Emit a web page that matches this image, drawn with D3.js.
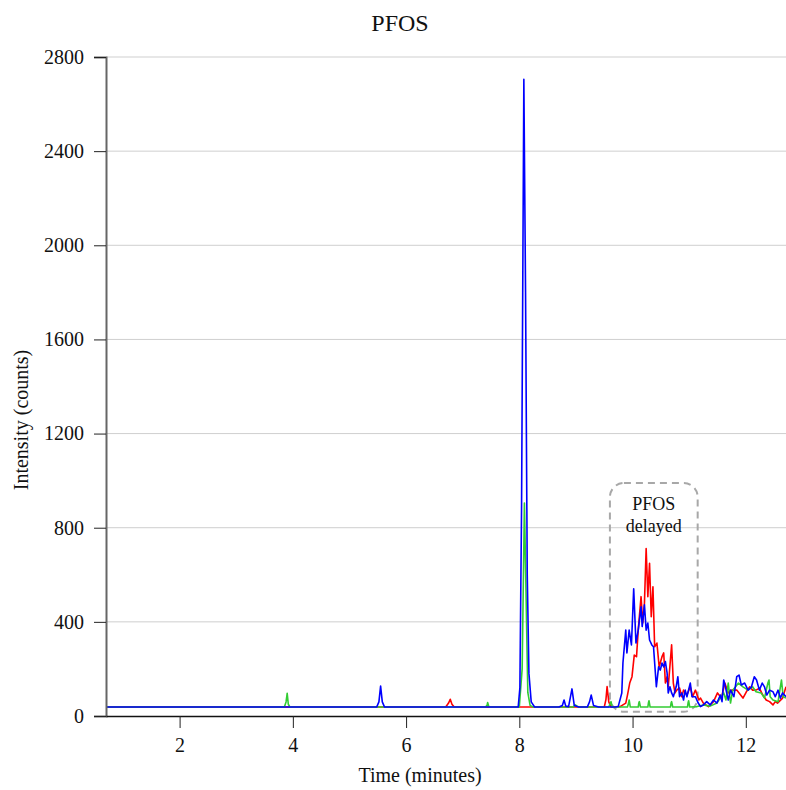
<!DOCTYPE html>
<html><head><meta charset="utf-8">
<script src="https://cdn.jsdelivr.net/npm/d3@7"></script>
<style>body{margin:0;background:#fff}text{font-family:"Liberation Serif","Times New Roman",serif}</style>
</head><body><svg id="c" width="786" height="790"></svg>
<script>
const yTicks=[0,400,800,1200,1600,2000,2400,2800];
const xTicks=[2,4,6,8,10,12];
const blueT=[0.7,5.48,5.52,5.55,5.58,5.62,7.98,8.01,8.04,8.08,8.11,8.14,8.17,8.21,8.27,8.7,8.76,8.79,8.82,8.87,8.93,8.97,9.05,9.2,9.24,9.27,9.31,9.4,9.7,9.746,9.81,9.83,9.88,9.90,9.94,9.98,10.02,10.06,10.10,10.15,10.17,10.21,10.24,10.27,10.30,10.34,10.37,10.42,10.46,10.49,10.52,10.55,10.58,10.61,10.63,10.66,10.69,10.72,10.77,10.80,10.83,10.87,10.90,10.93,10.96,11.02,11.05,11.11,11.16,11.2,11.25,11.31,11.37,11.43,11.49,11.55,11.58,11.61,11.64,11.69,11.73,11.79,11.84,11.88,11.92,11.98,12.04,12.10,12.15,12.19,12.24,12.29,12.33,12.37,12.42,12.48,12.52,12.57,12.61,12.65,12.71];
const blueV=[38,38,60,127,60,38,38,120,900,2705,1800,600,180,60,38,38,45,68,42,40,115,45,38,38,60,89,45,38,38,40,98,225,365,268,365,302,540,310,365,464,380,472,365,395,323,302,294,124,209,195,225,209,231,183,98,124,98,82,124,167,82,98,68,110,82,140,82,82,55,40,47,61,47,68,55,89,61,153,124,68,110,82,167,174,132,140,110,124,167,153,110,140,124,89,110,103,82,110,76,98,82];
const redT=[0.7,6.7,6.75,6.78,6.81,6.85,9.5,9.53,9.55,9.58,9.62,9.78,9.88,9.91,9.95,9.99,10.03,10.07,10.10,10.15,10.18,10.21,10.24,10.27,10.30,10.33,10.36,10.39,10.43,10.47,10.52,10.55,10.58,10.61,10.63,10.69,10.72,10.75,10.78,10.83,10.87,10.90,10.96,11.02,11.06,11.11,11.17,11.20,11.25,11.34,11.43,11.50,11.57,11.63,11.69,11.75,11.84,11.95,12.01,12.07,12.12,12.18,12.24,12.30,12.36,12.42,12.48,12.52,12.56,12.65,12.71];
const redV=[38,38,55,71,50,38,38,70,125,60,38,40,55,89,140,167,259,252,365,507,395,480,712,507,649,422,549,294,310,209,252,268,140,167,124,302,140,98,110,119,82,110,89,124,82,110,68,76,55,40,61,98,76,140,98,110,110,76,103,124,110,110,118,89,68,61,47,61,55,76,124];
const greenT=[0.7,3.85,3.88,3.9,3.92,3.95,7.4,7.43,7.44,7.46,7.5,8.0,8.05,8.09,8.12,8.15,8.19,8.24,8.95,8.99,9.02,9.05,9.58,9.61,9.62,9.64,9.91,9.93,9.94,9.96,10.10,10.11,10.12,10.14,10.27,10.28,10.29,10.31,10.67,10.68,10.69,10.71,10.97,10.98,10.99,11.01,11.14,11.25,11.37,11.49,11.55,11.61,11.65,11.69,11.73,11.77,11.82,11.87,11.95,12.04,12.12,12.18,12.27,12.33,12.39,12.41,12.43,12.48,12.57,12.63,12.66,12.71];
const greenV=[38,38,60,96,50,38,38,45,57,40,38,38,200,905,500,100,45,38,38,47,42,38,38,55,61,38,38,55,68,38,38,55,61,38,38,55,65,38,38,55,61,38,38,55,65,38,40,47,42,55,76,98,68,140,55,110,124,140,124,110,124,103,98,76,140,153,82,68,61,153,82,76];
const seriesNames=["red","green","blue"];
const seriesColors=["#ff0000","#33cc33","#0000ff"];
const annotation={t0:9.6,t1:11.15,v0:18,v1:990,lines:["PFOS","delayed"]};

const svg=d3.select("#c");
const L=106,R=786,T=57,B=716;
const x=d3.scaleLinear().domain([0.7,12.71]).range([L,R]);
const y=d3.scaleLinear().domain([0,2800]).range([B,T]);

svg.append("defs").append("clipPath").attr("id","clip").append("rect").attr("x",L).attr("y",T-5).attr("width",R-L).attr("height",B-T+5);

svg.append("g").selectAll("line").data(yTicks.filter(d=>d>0)).join("line")
 .attr("x1",L).attr("x2",R).attr("y1",d=>y(d)).attr("y2",d=>y(d))
 .attr("stroke","#cfcfcf").attr("stroke-width",1);

const bx0=x(annotation.t0),bx1=x(annotation.t1),by0=y(annotation.v1),by1=y(annotation.v0);
svg.append("rect").attr("x",bx0).attr("y",by0).attr("width",bx1-bx0).attr("height",by1-by0)
 .attr("rx",14).attr("ry",14).attr("fill","none").attr("stroke","#a8a8a8").attr("stroke-width",2).attr("stroke-dasharray","7,5");
svg.append("g").selectAll("text").data(annotation.lines).join("text")
 .attr("x",(bx0+bx1)/2).attr("y",(d,i)=>by0+27+i*22).attr("text-anchor","middle")
 .attr("font-size",18).attr("fill","#111").text(d=>d);

const data=[[redT,redV],[greenT,greenV],[blueT,blueV]];
const line=d3.line().x(d=>x(d[0])).y(d=>y(d[1]));
const g=svg.append("g").attr("clip-path","url(#clip)");
data.forEach((s,i)=>{
  const pts=s[0].map((t,j)=>[t,s[1][j]]);
  g.append("path").datum(pts).attr("d",line).attr("fill","none")
   .attr("stroke",seriesColors[i]).attr("stroke-width",1.6).attr("stroke-linejoin","round");
});

const ya=svg.append("g").attr("transform",`translate(${L},0)`)
 .call(d3.axisLeft(y).tickValues(yTicks).tickSize(12).tickPadding(10).tickFormat(d3.format("d")));
ya.select(".domain").attr("stroke","#666").attr("stroke-width",2);
ya.selectAll(".tick line").attr("stroke","#222");
ya.selectAll("text").attr("font-size",20).attr("fill","#111").attr("font-family","Liberation Serif");

const xa=svg.append("g").attr("transform",`translate(0,${B})`)
 .call(d3.axisBottom(x).tickValues(xTicks).tickSize(12).tickPadding(10).tickSizeOuter(0));
xa.select(".domain").attr("stroke","#111").attr("stroke-width",1.5);
xa.selectAll(".tick line").attr("stroke","#222");
xa.selectAll("text").attr("font-size",20).attr("fill","#111").attr("font-family","Liberation Serif");

svg.append("text").attr("x",400).attr("y",31).attr("text-anchor","middle").attr("font-size",24).attr("fill","#111").text("PFOS");
svg.append("text").attr("x",420).attr("y",782).attr("text-anchor","middle").attr("font-size",20).attr("fill","#111").text("Time (minutes)");
svg.append("text").attr("transform","translate(28,420) rotate(-90)").attr("text-anchor","middle").attr("font-size",20).attr("fill","#111").text("Intensity (counts)");
</script></body></html>
